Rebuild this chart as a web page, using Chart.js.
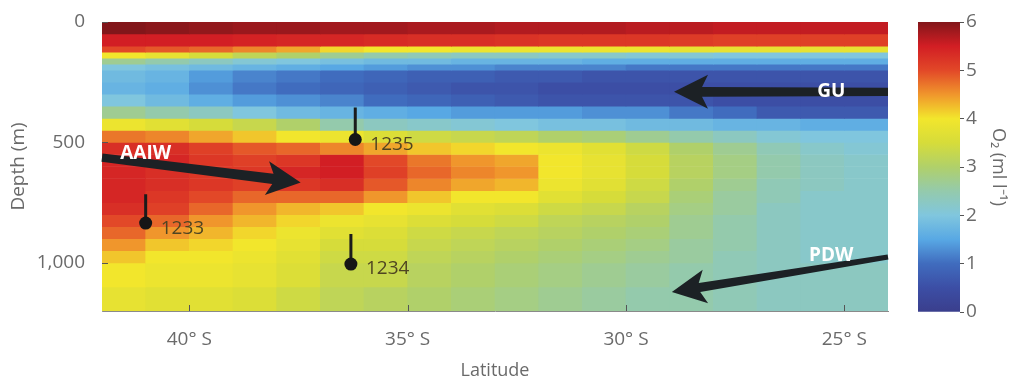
<!DOCTYPE html>
<html lang="en">
<head>
<meta charset="UTF-8">
<title>Oxygen section</title>
<style>
  body { margin: 0; background: #fff; }
  .wrap { position: relative; width: 1015px; height: 383px; }
  #main { position: absolute; left: 0; top: 0; }
  #cbar { position: absolute; left: 905px; top: 0; }
</style>
</head>
<body>
<div class="wrap">
  <canvas id="main" width="905" height="383"></canvas>
  <canvas id="cbar" width="110" height="383"></canvas>
</div>
<script src="https://cdn.jsdelivr.net/npm/chart.js"></script>
<script>
// latitude cell centres (deg S) and depth row edges (m)
const latitudes = [41.5, 40.5, 39.5, 38.5, 37.5, 36.5, 35.5, 34.5, 33.5, 32.5, 31.5, 30.5, 29.5, 28.5, 27.5, 26.5, 25.5, 24.5];
const depthEdges = [0, 50, 100, 125, 150, 175, 200, 250, 300, 350, 400, 450, 500, 550, 600, 650, 700, 750, 800, 850, 900, 950, 1000, 1100, 1200];

// O2 (ml/l), one row per depth band
const o2 = [
  [6.0, 5.95, 5.9, 5.85, 5.85, 5.8, 5.8, 5.75, 5.75, 5.7, 5.7, 5.7, 5.65, 5.65, 5.6, 5.6, 5.6, 5.6],
  [5.5, 5.5, 5.5, 5.45, 5.4, 5.4, 5.35, 5.3, 5.3, 5.25, 5.2, 5.2, 5.2, 5.15, 5.1, 5.1, 5.1, 5.1],
  [5.0, 4.9, 4.8, 4.6, 4.4, 4.1, 4.0, 4.0, 3.9, 3.9, 3.9, 3.9, 3.9, 3.8, 3.8, 3.8, 3.8, 3.8],
  [4.0, 3.8, 3.5, 3.2, 3.0, 2.7, 2.5, 2.4, 2.3, 2.3, 2.2, 2.2, 2.1, 2.1, 2.0, 2.0, 2.0, 2.0],
  [2.7, 2.5, 2.3, 2.1, 2.0, 1.9, 1.8, 1.8, 1.7, 1.7, 1.7, 1.6, 1.6, 1.6, 1.6, 1.6, 1.6, 1.6],
  [2.0, 1.9, 1.8, 1.7, 1.6, 1.5, 1.4, 1.3, 1.3, 1.2, 1.2, 1.2, 1.1, 1.1, 1.1, 1.1, 1.1, 1.1],
  [1.8, 1.7, 1.4, 1.2, 1.1, 1.0, 0.9, 0.8, 0.8, 0.7, 0.7, 0.6, 0.6, 0.6, 0.6, 0.6, 0.6, 0.6],
  [1.7, 1.6, 1.3, 1.1, 1.0, 0.9, 0.8, 0.7, 0.6, 0.6, 0.5, 0.5, 0.5, 0.5, 0.5, 0.5, 0.5, 0.5],
  [2.0, 1.8, 1.6, 1.4, 1.3, 1.2, 1.0, 0.9, 0.8, 0.7, 0.6, 0.6, 0.6, 0.6, 0.5, 0.5, 0.5, 0.5],
  [2.7, 2.5, 2.3, 2.0, 1.8, 1.7, 1.6, 1.5, 1.4, 1.4, 1.4, 1.3, 1.3, 1.1, 1.0, 0.7, 0.7, 0.7],
  [3.9, 3.7, 3.5, 3.3, 3.0, 2.5, 2.3, 2.2, 2.1, 2.0, 1.9, 1.9, 1.8, 1.8, 1.7, 1.7, 1.6, 1.6],
  [4.7, 4.6, 4.4, 4.2, 4.0, 3.9, 3.6, 3.4, 3.3, 3.2, 3.0, 2.9, 2.7, 2.5, 2.3, 2.1, 2.0, 2.0],
  [5.3, 5.3, 5.1, 4.9, 4.8, 4.6, 4.4, 4.2, 4.1, 4.0, 3.9, 3.7, 3.4, 3.0, 2.7, 2.4, 2.2, 2.1],
  [5.4, 5.4, 5.2, 5.1, 5.2, 5.5, 5.0, 4.7, 4.5, 4.4, 4.0, 3.8, 3.5, 3.1, 2.8, 2.5, 2.3, 2.2],
  [5.4, 5.3, 5.2, 5.2, 5.4, 5.5, 5.1, 4.8, 4.6, 4.5, 4.0, 3.8, 3.5, 3.1, 2.8, 2.5, 2.3, 2.2],
  [5.4, 5.3, 5.2, 5.1, 5.2, 5.3, 4.9, 4.6, 4.4, 4.3, 3.9, 3.7, 3.4, 3.0, 2.7, 2.4, 2.3, 2.2],
  [5.4, 5.2, 5.0, 4.8, 4.8, 4.8, 4.5, 4.2, 4.0, 4.0, 3.7, 3.5, 3.3, 2.9, 2.6, 2.4, 2.2, 2.2],
  [5.3, 5.1, 4.8, 4.5, 4.3, 4.2, 4.0, 3.9, 3.7, 3.6, 3.4, 3.3, 3.1, 2.8, 2.6, 2.3, 2.2, 2.2],
  [5.0, 4.8, 4.5, 4.3, 4.1, 3.9, 3.8, 3.6, 3.5, 3.4, 3.2, 3.1, 3.0, 2.7, 2.5, 2.3, 2.2, 2.2],
  [4.8, 4.5, 4.3, 4.1, 3.9, 3.7, 3.6, 3.4, 3.3, 3.2, 3.1, 3.0, 2.9, 2.7, 2.5, 2.3, 2.2, 2.2],
  [4.5, 4.2, 4.1, 4.0, 3.8, 3.5, 3.5, 3.3, 3.2, 3.1, 3.0, 2.9, 2.8, 2.6, 2.5, 2.3, 2.2, 2.2],
  [4.2, 4.0, 4.0, 3.9, 3.7, 3.4, 3.4, 3.2, 3.1, 3.0, 2.9, 2.8, 2.7, 2.6, 2.4, 2.3, 2.2, 2.2],
  [4.0, 3.9, 3.9, 3.8, 3.6, 3.3, 3.3, 3.1, 3.0, 2.9, 2.8, 2.7, 2.6, 2.5, 2.4, 2.3, 2.3, 2.3],
  [3.8, 3.7, 3.7, 3.6, 3.4, 3.2, 3.1, 3.0, 2.9, 2.8, 2.7, 2.6, 2.5, 2.5, 2.4, 2.3, 2.3, 2.3]
];

const xTickValues = [40, 35, 30, 25];
const xTickLabels = ['40° S', '35° S', '30° S', '25° S'];
const yTickValues = [0, 500, 1000];
const yTickLabels = ['0', '500', '1,000'];
const o2Ticks = [0, 1, 2, 3, 4, 5, 6];

// core sites: latitude, core depth, top of the stem
const stationNames = ['1233', '1235', '1234'];
const stationLat = [41.0, 36.2, 36.3];
const stationDepth = [835, 488, 1005];
const stationTop = [715, 355, 880];

// water mass arrows: tail -> tip, label position
const arrowNames = ['AAIW', 'GU', 'PDW'];
const arrowFrom = [[42.0, 563], [24.0, 290], [24.0, 976]];
const arrowTo = [[37.45, 666], [28.9, 290], [28.95, 1121]];
const arrowLabelAt = [[41.0, 548], [25.3, 290], [25.3, 968]];

const colorStops = [
  [0.0, '#3a3e8c'], [0.5, '#3c4ea5'], [1.0, '#406cbe'], [1.5, '#58a8e4'],
  [2.0, '#80c6de'], [2.5, '#94caac'], [3.0, '#b0d06a'], [3.5, '#d6dc3a'],
  [4.0, '#f2e62c'], [4.5, '#f0962c'], [5.0, '#e24828'], [5.5, '#d21e24'], [6.0, '#82161a']
];

function hexRgb(h) {
  return [parseInt(h.slice(1, 3), 16), parseInt(h.slice(3, 5), 16), parseInt(h.slice(5, 7), 16)];
}
function o2Color(v) {
  for (let i = 1; i < colorStops.length; i++) {
    const [v1, c1] = colorStops[i];
    if (v <= v1 || i === colorStops.length - 1) {
      const [v0, c0] = colorStops[i - 1];
      const t = Math.max(0, Math.min(1, (v - v0) / (v1 - v0)));
      const a = hexRgb(c0), b = hexRgb(c1);
      const c = a.map((x, k) => Math.round(x + (b[k] - x) * t));
      return `rgb(${c[0]},${c[1]},${c[2]})`;
    }
  }
}

const textColor = '#6a6a6a';
const fontFamily = '"Open Sans", sans-serif';

const cellSets = o2.map((row, i) => ({
  type: 'bar',
  data: row.map((v, j) => ({ x: latitudes[j], y: [depthEdges[i], depthEdges[i + 1]] })),
  backgroundColor: row.map(o2Color),
  borderWidth: 0,
  grouped: false,
  categoryPercentage: 1,
  barPercentage: 1,
  order: 10
}));

const stemSets = stationNames.map((n, i) => ({
  type: 'line',
  data: [{ x: stationLat[i], y: stationTop[i] }, { x: stationLat[i], y: stationDepth[i] }],
  borderColor: '#1b1b1b',
  borderWidth: 3,
  pointRadius: 0,
  order: 2
}));

const dotSet = {
  type: 'line',
  data: stationNames.map((n, i) => ({ x: stationLat[i], y: stationDepth[i] })),
  showLine: false,
  pointRadius: 6.5,
  pointBackgroundColor: '#161616',
  pointBorderWidth: 0,
  order: 1
};

function drawArrow(ctx, x1, y1, x2, y2, tail, neck) {
  const ang = Math.atan2(y2 - y1, x2 - x1);
  const len = Math.hypot(x2 - x1, y2 - y1);
  const headLen = 32, headW = 17;
  ctx.save();
  ctx.translate(x1, y1);
  ctx.rotate(ang);
  ctx.beginPath();
  ctx.moveTo(0, -tail);
  ctx.lineTo(len - headLen + 4, -neck);
  ctx.lineTo(len - headLen - 2, -headW);
  ctx.lineTo(len, 0);
  ctx.lineTo(len - headLen - 2, headW);
  ctx.lineTo(len - headLen + 4, neck);
  ctx.lineTo(0, tail);
  ctx.closePath();
  ctx.fillStyle = '#1c2125';
  ctx.fill();
  ctx.restore();
}

const overlay = {
  id: 'overlay',
  afterDatasetsDraw(chart) {
    const { ctx, scales: { x, y }, chartArea } = chart;
    ctx.save();
    // inner ticks
    ctx.strokeStyle = '#555';
    ctx.lineWidth = 1;
    xTickValues.forEach(v => {
      const px = Math.round(x.getPixelForValue(v)) + 0.5;
      ctx.beginPath();
      ctx.moveTo(px, chartArea.bottom);
      ctx.lineTo(px, chartArea.bottom - 6);
      ctx.stroke();
    });
    yTickValues.forEach(v => {
      const py = Math.round(y.getPixelForValue(v)) + 0.5;
      ctx.beginPath();
      ctx.moveTo(chartArea.left, py);
      ctx.lineTo(chartArea.left + 6, py);
      ctx.stroke();
    });
    // arrows
    const widths = [[4.2, 5.2], [4.2, 4.8], [2.6, 4.6]];
    arrowNames.forEach((n, i) => {
      drawArrow(ctx,
        x.getPixelForValue(arrowFrom[i][0]), y.getPixelForValue(arrowFrom[i][1]),
        x.getPixelForValue(arrowTo[i][0]), y.getPixelForValue(arrowTo[i][1]),
        widths[i][0], widths[i][1]);
    });
    ctx.fillStyle = '#ffffff';
    ctx.font = 'bold 19px ' + fontFamily;
    ctx.textAlign = 'center';
    ctx.textBaseline = 'middle';
    arrowNames.forEach((n, i) => {
      ctx.fillText(n, x.getPixelForValue(arrowLabelAt[i][0]), y.getPixelForValue(arrowLabelAt[i][1]));
    });
    // station labels
    ctx.fillStyle = '#4f4522';
    ctx.font = '19px ' + fontFamily;
    ctx.textAlign = 'left';
    stationNames.forEach((n, i) => {
      ctx.fillText(n, x.getPixelForValue(stationLat[i]) + 15, y.getPixelForValue(stationDepth[i]) + 5);
    });
    ctx.restore();
  }
};

new Chart(document.getElementById('main'), {
  type: 'bar',
  data: { datasets: [...cellSets, ...stemSets, dotSet] },
  options: {
    responsive: false,
    animation: false,
    layout: { padding: { left: 0, top: 22, right: 17, bottom: 0 } },
    plugins: { legend: { display: false }, tooltip: { enabled: false } },
    scales: {
      x: {
        type: 'linear',
        min: 24,
        max: 42,
        reverse: true,
        offset: false,
        grid: { display: false, offset: false },
        border: { display: true, color: '#8a8a8a', width: 1 },
        afterBuildTicks: s => { s.ticks = xTickValues.map(v => ({ value: v })); },
        afterFit: s => { s.height = 72; },
        ticks: {
          padding: 9,
          maxRotation: 0,
          color: textColor,
          font: { family: fontFamily, size: 19 },
          callback: v => xTickLabels[xTickValues.indexOf(v)]
        },
        title: {
          display: true,
          text: 'Latitude',
          color: textColor,
          font: { family: fontFamily, size: 18 },
          padding: { top: 0, bottom: 1 }
        }
      },
      y: {
        type: 'linear',
        min: 0,
        max: 1200,
        reverse: true,
        grid: { display: false },
        border: { display: true, color: '#9a9a9a', width: 1 },
        afterBuildTicks: s => { s.ticks = yTickValues.map(v => ({ value: v })); },
        afterFit: s => { s.width = 102; },
        ticks: {
          padding: 9,
          color: textColor,
          font: { family: fontFamily, size: 19 },
          callback: v => yTickLabels[yTickValues.indexOf(v)]
        },
        title: {
          display: true,
          text: 'Depth (m)',
          color: textColor,
          font: { family: fontFamily, size: 19 },
          padding: { top: 7, bottom: 0 }
        }
      }
    }
  },
  plugins: [overlay]
});

new Chart(document.getElementById('cbar'), {
  type: 'bar',
  data: {
    labels: [''],
    datasets: [{
      data: [[0, 6]],
      backgroundColor: c => {
        const ch = c.chart;
        if (!ch.chartArea) return null;
        const ys = ch.scales.y;
        const g = ch.ctx.createLinearGradient(0, ys.getPixelForValue(0), 0, ys.getPixelForValue(6));
        colorStops.forEach(([v, col]) => g.addColorStop(v / 6, col));
        return g;
      },
      borderWidth: 0,
      categoryPercentage: 1,
      barPercentage: 1
    }]
  },
  options: {
    responsive: false,
    animation: false,
    layout: { padding: { left: 13, top: 22, right: 0, bottom: 71 } },
    plugins: { legend: { display: false }, tooltip: { enabled: false } },
    scales: {
      x: { display: false },
      y: {
        position: 'right',
        min: 0,
        max: 6,
        grid: { drawOnChartArea: false, tickLength: 4, color: '#555' },
        border: { display: false },
        afterBuildTicks: s => { s.ticks = o2Ticks.map(v => ({ value: v })); },
        afterFit: s => { s.width = 55; },
        ticks: {
          padding: 2,
          color: textColor,
          font: { family: fontFamily, size: 19 }
        },
        title: {
          display: true,
          text: 'O₂ (ml l⁻¹)',
          color: textColor,
          font: { family: fontFamily, size: 18 },
          padding: { top: 6, bottom: 0 }
        }
      }
    }
  }
});
</script>
</body>
</html>
